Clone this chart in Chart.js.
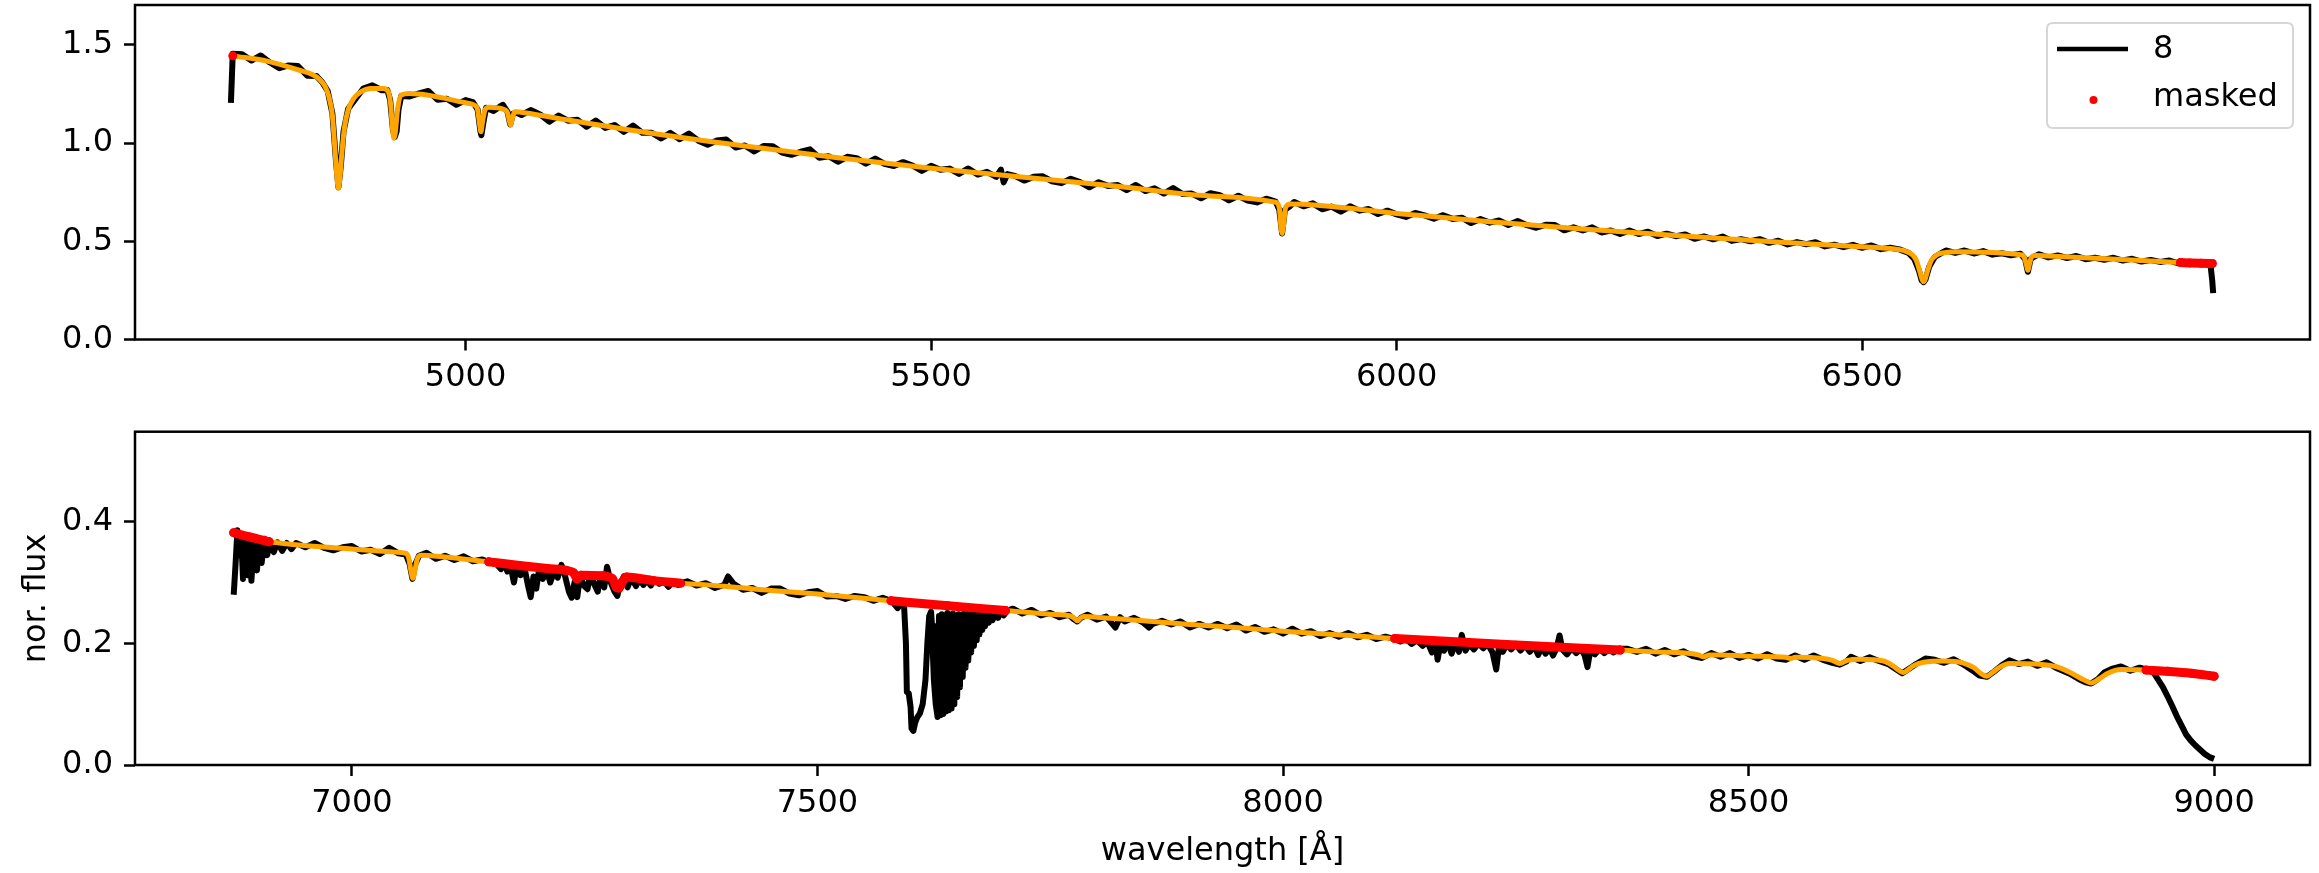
<!DOCTYPE html>
<html><head><meta charset="utf-8">
<script src="https://cdn.jsdelivr.net/npm/chart.js@4.4.0/dist/chart.umd.min.js"></script>
<style>
html,body{margin:0;padding:0;background:#fff;}
#wrap{position:relative;width:2319px;height:873px;background:#fff;}
canvas{position:absolute;left:0;}
#c1{top:0;}
#c2{top:400px;}
</style></head><body>
<div id="wrap"><canvas id="c1" width="2319" height="400"></canvas><canvas id="c2" width="2319" height="473"></canvas></div>
<script>
// ---------------- DATA ----------------
const seriesLabel = '8';
const maskedLabel = 'masked';

// Upper panel: observed spectrum
const topWave = [
4748,4750,4760,4770,4780,4790,4800,4810,4820,4830,
4840,4846,4852,4857,4861,4863.5,4866,4869,4874,4880,
4890,4900,4910,4916,4919,4922,4924,4926,4928,4931,
4940,4950,4960,4970,4980,4990,5000,5008,5013,5016,
5017,5019,5022,5030,5040,5045,5048,5051,5055,5060,
5070,5080,5090,5100,5110,5120,5130,5140,5150,5160,
5170,5180,5190,5200,5210,5220,5230,5240,5250,5260,
5270,5280,5290,5300,5310,5320,5330,5340,5350,5360,
5370,5380,5390,5400,5410,5420,5430,5440,5450,5460,
5470,5480,5490,5500,5510,5520,5530,5540,5550,5560,
5570,5575,5578,5582,5590,5600,5610,5620,5630,5640,
5650,5660,5670,5680,5690,5700,5710,5720,5730,5740,
5750,5760,5770,5780,5790,5800,5810,5820,5830,5840,
5850,5860,5870,5874,5877,5880,5885,5890,5900,5910,
5920,5930,5940,5950,5960,5970,5980,5990,6000,6010,
6020,6030,6040,6050,6060,6070,6080,6090,6100,6110,
6120,6130,6140,6150,6160,6170,6180,6190,6200,6210,
6220,6230,6240,6250,6260,6270,6280,6290,6300,6310,
6320,6330,6340,6350,6360,6370,6380,6390,6400,6410,
6420,6430,6440,6450,6460,6470,6480,6490,6500,6510,
6520,6530,6540,6550,6556,6561,6564,6566,6568,6572,
6578,6586,6590,6600,6610,6620,6630,6640,6650,6660,
6670,6675,6678,6681,6685,6690,6700,6710,6720,6730,
6740,6750,6760,6770,6780,6790,6800,6810,6820,6830,
6840,6850,6860,6870,6874,6876,6877];
const topFlux = [
1.205,1.455,1.452,1.420,1.446,1.410,1.381,1.395,1.392,1.343,
1.341,1.310,1.265,1.150,0.900,0.775,0.880,1.060,1.175,1.213,
1.277,1.294,1.269,1.270,1.220,1.070,1.030,1.060,1.170,1.240,
1.237,1.253,1.265,1.220,1.226,1.195,1.219,1.208,1.170,1.060,
1.040,1.100,1.180,1.164,1.195,1.160,1.095,1.150,1.154,1.143,
1.168,1.146,1.109,1.140,1.114,1.119,1.083,1.115,1.077,1.092,
1.057,1.089,1.052,1.053,1.023,1.052,1.020,1.048,1.012,0.992,
1.013,1.018,0.977,0.988,0.957,0.985,0.984,0.952,0.940,0.956,
0.968,0.925,0.933,0.905,0.930,0.923,0.895,0.921,0.894,0.883,
0.903,0.886,0.858,0.884,0.864,0.870,0.843,0.871,0.840,0.854,
0.828,0.865,0.800,0.842,0.833,0.809,0.828,0.831,0.805,0.796,
0.818,0.801,0.775,0.801,0.782,0.787,0.760,0.787,0.756,0.770,
0.743,0.771,0.741,0.743,0.719,0.745,0.735,0.708,0.732,0.707,
0.698,0.717,0.702,0.660,0.540,0.660,0.677,0.700,0.678,0.693,
0.663,0.677,0.651,0.678,0.656,0.664,0.639,0.656,0.637,0.624,
0.644,0.632,0.615,0.633,0.614,0.620,0.593,0.613,0.595,0.606,
0.583,0.603,0.582,0.569,0.584,0.583,0.556,0.571,0.555,0.571,
0.545,0.555,0.537,0.555,0.537,0.549,0.527,0.539,0.526,0.535,
0.513,0.525,0.510,0.524,0.502,0.511,0.500,0.511,0.492,0.503,
0.484,0.496,0.485,0.495,0.474,0.483,0.470,0.482,0.467,0.479,
0.460,0.467,0.459,0.440,0.410,0.350,0.300,0.292,0.305,0.370,
0.420,0.442,0.453,0.441,0.453,0.438,0.450,0.432,0.439,0.429,
0.437,0.410,0.345,0.410,0.423,0.434,0.418,0.428,0.415,0.425,
0.409,0.416,0.406,0.416,0.402,0.411,0.397,0.405,0.395,0.402,
0.388,0.394,0.386,0.389,0.386,0.300,0.236];

// Upper panel: model (orange)
const topModelWave = [
4750,4789,4821,4835,4843,4849,4853,4857,4860,4862,
4863.5,4865,4867,4870,4874,4880,4888,4898,4912,4917,
4919.5,4921.5,4923,4924.5,4927,4931,4940,5000,5010,5013,
5015,5016.5,5018,5021,5025,5042,5045,5047,5048.5,5050,
5053,5058,5100,5200,5300,5400,5500,5600,5700,5800,
5870,5874,5876,5877,5878,5881,5886,6000,6100,6200,
6300,6400,6500,6530,6545,6553,6558,6562,6564.5,6566,
6567.5,6570,6574,6580,6590,6600,6670,6674,6676.5,6678,
6679.5,6682,6686,6700,6800,6842];
const topModel = [
1.444,1.415,1.372,1.350,1.325,1.290,1.240,1.140,0.950,0.820,
0.770,0.820,0.940,1.080,1.170,1.228,1.262,1.278,1.278,1.262,
1.200,1.080,1.024,1.050,1.170,1.245,1.252,1.205,1.192,1.170,
1.100,1.058,1.100,1.170,1.183,1.170,1.155,1.115,1.092,1.120,
1.160,1.158,1.125,1.050,0.985,0.925,0.872,0.826,0.780,0.731,
0.699,0.670,0.560,0.540,0.560,0.675,0.690,0.642,0.600,0.562,
0.529,0.499,0.472,0.463,0.452,0.435,0.405,0.345,0.305,0.294,
0.305,0.345,0.400,0.430,0.443,0.447,0.432,0.420,0.380,0.352,
0.380,0.420,0.428,0.425,0.402,0.392];

// Upper panel: masked pixels (null = gap between masked runs)
const topMaskWave = [4750, 4751, 6842, 6852, 6864, 6876];
const topMask     = [1.444, null, 0.392, 0.390, 0.388, 0.387];

// Lower panel: observed spectrum
const botWave = [
6873,6875,6877,6879,6881,6883,6885,6888,6890,6892,
6895,6898,6900,6903,6906,6909,6912,6916,6920,6925,
6930,6935,6940,6950,6960,6970,6980,6990,7000,7010,
7020,7030,7040,7050,7058,7062,7065,7068,7072,7080,
7090,7100,7110,7120,7130,7140,7150,7155,7160,7163,
7167,7170,7174,7177,7181,7185,7189,7192,7195,7198,
7201,7205,7209,7213,7217,7221,7225,7229,7233,7236,
7239,7242,7245,7249,7253,7256,7260,7264,7267,7271,
7274,7278,7282,7285,7288,7292,7296,7300,7305,7309,
7313,7317,7321,7325,7330,7335,7340,7345,7350,7355,
7360,7370,7380,7390,7400,7404,7410,7420,7430,7440,
7450,7460,7470,7480,7490,7500,7510,7520,7530,7540,
7550,7560,7570,7580,7586,7590,7593,7595,7596,7598,
7600,7601,7603,7605,7607,7610,7613,7616,7618,7620,
7622,7623,7624,7625,7627,7629,7630.5,7632,7633.5,7635,
7636.5,7638,7639.5,7641,7642.5,7644,7645.5,7647,7648.5,7650,
7651.5,7653,7654.5,7656,7657.5,7659,7660.5,7662,7663.5,7665,
7666.5,7668,7669.5,7671,7672.5,7674,7675.5,7677,7678.5,7680,
7682,7684,7686,7688,7691,7694,7697,7700,7704,7710,
7720,7730,7740,7750,7760,7770,7775,7779,7783,7790,
7800,7810,7820,7825,7830,7840,7850,7856,7860,7870,
7880,7890,7900,7910,7920,7930,7940,7950,7960,7970,
7980,7990,8000,8010,8020,8030,8040,8050,8060,8070,
8080,8090,8100,8110,8120,8126,8132,8138,8144,8150,
8155,8160,8164,8166,8169,8173,8177,8181,8185,8189,
8192,8196,8200,8205,8210,8215,8220,8225,8229,8232,
8236,8240,8245,8250,8255,8260,8265,8270,8274,8278,
8282,8286,8290,8294,8297,8300,8305,8310,8315,8320,
8324,8327,8330,8335,8340,8345,8350,8355,8360,8370,
8380,8390,8400,8410,8420,8430,8440,8450,8460,8470,
8480,8490,8500,8510,8520,8530,8540,8550,8560,8570,
8580,8590,8598,8605,8610,8620,8630,8640,8650,8658,
8665,8672,8680,8690,8700,8710,8720,8730,8740,8748,
8756,8764,8772,8780,8790,8800,8810,8820,8830,8845,
8855,8862,8868,8875,8882,8890,8900,8910,8920,8930,
8935,8940,8945,8950,8955,8960,8965,8970,8975,8980,
8985,8990,8995,9000];
const botFlux = [
0.280,0.330,0.386,0.345,0.378,0.306,0.374,0.312,0.366,0.303,
0.370,0.320,0.366,0.332,0.372,0.345,0.369,0.350,0.366,0.352,
0.365,0.355,0.365,0.358,0.365,0.357,0.353,0.358,0.360,0.351,
0.354,0.347,0.357,0.348,0.346,0.330,0.306,0.330,0.344,0.349,
0.339,0.344,0.337,0.343,0.335,0.338,0.332,0.331,0.322,0.333,
0.318,0.330,0.300,0.327,0.312,0.326,0.296,0.276,0.310,0.290,
0.322,0.306,0.321,0.300,0.318,0.308,0.329,0.310,0.285,0.275,
0.300,0.276,0.312,0.295,0.289,0.314,0.298,0.285,0.312,0.292,
0.326,0.300,0.285,0.278,0.296,0.310,0.292,0.308,0.294,0.306,
0.296,0.304,0.295,0.305,0.298,0.302,0.293,0.302,0.296,0.300,
0.302,0.295,0.299,0.291,0.296,0.310,0.298,0.288,0.291,0.283,
0.290,0.290,0.282,0.279,0.284,0.286,0.277,0.278,0.273,0.278,
0.276,0.270,0.275,0.269,0.258,0.266,0.262,0.200,0.120,0.118,
0.095,0.060,0.056,0.070,0.078,0.085,0.100,0.140,0.200,0.245,
0.252,0.230,0.181,0.140,0.100,0.079,0.245,0.082,0.248,0.084,
0.246,0.088,0.250,0.090,0.247,0.093,0.249,0.100,0.246,0.112,
0.248,0.128,0.247,0.145,0.249,0.160,0.246,0.172,0.250,0.185,
0.247,0.196,0.249,0.205,0.248,0.215,0.250,0.222,0.248,0.228,
0.250,0.234,0.251,0.238,0.252,0.242,0.253,0.246,0.254,0.257,
0.249,0.255,0.246,0.250,0.243,0.247,0.240,0.236,0.242,0.247,
0.239,0.244,0.226,0.243,0.236,0.242,0.234,0.226,0.232,0.237,
0.231,0.236,0.226,0.232,0.226,0.232,0.225,0.231,0.221,0.227,
0.219,0.223,0.216,0.224,0.216,0.220,0.212,0.217,0.211,0.217,
0.210,0.214,0.207,0.211,0.207,0.203,0.208,0.199,0.205,0.196,
0.203,0.185,0.200,0.173,0.198,0.188,0.202,0.183,0.200,0.186,
0.214,0.188,0.199,0.190,0.200,0.192,0.199,0.185,0.157,0.195,
0.186,0.198,0.190,0.199,0.188,0.197,0.186,0.195,0.181,0.194,
0.183,0.193,0.180,0.193,0.213,0.190,0.182,0.192,0.184,0.191,
0.180,0.161,0.188,0.182,0.191,0.184,0.190,0.185,0.191,0.191,
0.186,0.191,0.183,0.189,0.182,0.187,0.179,0.176,0.184,0.178,
0.184,0.176,0.181,0.175,0.182,0.175,0.173,0.180,0.173,0.180,
0.173,0.168,0.165,0.170,0.178,0.171,0.177,0.171,0.166,0.158,
0.151,0.158,0.166,0.175,0.173,0.168,0.174,0.166,0.156,0.147,
0.145,0.154,0.164,0.172,0.166,0.170,0.163,0.169,0.160,0.150,
0.141,0.136,0.134,0.141,0.152,0.158,0.162,0.155,0.160,0.156,
0.152,0.140,0.128,0.113,0.097,0.080,0.065,0.050,0.040,0.032,
0.025,0.018,0.013,0.010];

// Lower panel: model (orange), null = masked run
const botModelWave = [
6911,6940,7000,7047,7058,7061,7063.5,7065.5,7067.5,7070,
7074,7100,7147,7148,
7353,7400,7450,7500,7550,7579,7580,
7702,7750,7772,7776,7779,7782,7786,7800,7850,
7900,7950,8000,8050,8100,8120,8121,
8362,8400,8440,8446,8452,8458,8470,8500,8540,
8545,8550,8580,8590,8598,8606,8620,8645,8655,8662,
8666,8670,8677,8688,8710,8730,8742,8750,8756,8762,
8770,8780,8810,8830,8848,8860,8868,8876,8886,8900,
8927];
const botModel = [
0.367,0.362,0.355,0.350,0.348,0.340,0.318,0.307,0.318,0.338,
0.345,0.342,0.334,null,
0.299,0.294,0.287,0.281,0.274,0.270,null,
0.254,0.248,0.245,0.241,0.237,0.241,0.244,0.243,0.237,
0.231,0.226,0.220,0.215,0.210,0.208,null,
0.189,0.186,0.183,0.181,0.178,0.181,0.181,0.179,0.177,
0.175,0.177,0.175,0.172,0.167,0.172,0.174,0.171,0.163,0.155,
0.152,0.155,0.163,0.169,0.171,0.168,0.160,0.150,0.146,0.152,
0.161,0.167,0.166,0.162,0.150,0.140,0.135,0.141,0.151,0.157,
0.156];

// Lower panel: masked pixels
const botMaskWave = [
6873,6890,6911,6912,
7147,7180,7210,7230,7238,7242,7246,7270,7280,7284,7287,7290,7295,7320,7353,7354,
7579,7640,7702,7703,
8120,8240,8362,8363,
8927,8950,8975,9000];
const botMask = [
0.382,0.375,0.367,null,
0.334,0.328,0.323,0.320,0.316,0.306,0.312,0.311,0.306,0.292,0.291,0.300,0.309,0.304,0.299,null,
0.270,0.262,0.254,null,
0.208,0.198,0.189,null,
0.156,0.154,0.151,0.146];

// Axes
const xTicksTop = [5000, 5500, 6000, 6500];
const xTicksBot = [7000, 7500, 8000, 8500, 9000];
const yTicksTop = [0, 0.5, 1.0, 1.5];
const yTicksBot = [0, 0.2, 0.4];
const xRangeTop = [4645, 6981];
const xRangeBot = [6767, 9103];
const yRangeTop = [0, 1.703];
const yRangeBot = [0, 0.548];
const xTitle = 'wavelength [Å]';
const yTitle = 'nor. flux';

// ---------------- CHARTS ----------------
const FONT = 'DejaVu Sans';
const FS = 32;
const toXY = (w, f) => w.map((x, i) => ({x: x, y: f[i]}));

const framePlugin = {
  id: 'frame',
  afterDatasetsDraw(chart, args, opts) {
    const ctx = chart.ctx, a = chart.chartArea;
    ctx.save();
    ctx.strokeStyle = '#000';
    ctx.lineWidth = 2.5;
    ctx.strokeRect(a.left, a.top, a.right - a.left, a.bottom - a.top);
    if (opts && opts.legend) {
      const ds = chart.data.datasets;
      const bx = a.right - 17 - 246, by = a.top + 18, bw = 246, bh = 105, r = 6;
      ctx.beginPath();
      ctx.moveTo(bx + r, by);
      ctx.lineTo(bx + bw - r, by); ctx.quadraticCurveTo(bx + bw, by, bx + bw, by + r);
      ctx.lineTo(bx + bw, by + bh - r); ctx.quadraticCurveTo(bx + bw, by + bh, bx + bw - r, by + bh);
      ctx.lineTo(bx + r, by + bh); ctx.quadraticCurveTo(bx, by + bh, bx, by + bh - r);
      ctx.lineTo(bx, by + r); ctx.quadraticCurveTo(bx, by, bx + r, by);
      ctx.closePath();
      ctx.fillStyle = 'rgba(255,255,255,0.8)';
      ctx.fill();
      ctx.strokeStyle = '#d6d6d6';
      ctx.lineWidth = 2;
      ctx.stroke();
      ctx.strokeStyle = ds[0].borderColor;
      ctx.lineWidth = 4.6;
      ctx.beginPath();
      ctx.moveTo(bx + 10, by + 26); ctx.lineTo(bx + 81, by + 26);
      ctx.stroke();
      ctx.fillStyle = ds[2].backgroundColor;
      ctx.beginPath();
      ctx.arc(bx + 46.5, by + 77, 4, 0, Math.PI * 2);
      ctx.fill();
      ctx.fillStyle = '#000';
      ctx.font = FS + 'px "' + FONT + '"';
      ctx.textBaseline = 'middle';
      ctx.textAlign = 'left';
      ctx.fillText(ds[0].label, bx + 106, by + 27);
      ctx.fillText(ds[2].label, bx + 106, by + 75);
    }
    ctx.restore();
  }
};

function axisCommon() {
  return {
    grid: {display: true, drawOnChartArea: false, drawTicks: true, tickLength: 11,
           tickWidth: 2.5, tickColor: '#000', color: '#000'},
    border: {display: false}
  };
}

function makeChart(id, c) {
  const xAxis = Object.assign(axisCommon(), {
    type: 'linear', position: 'bottom', min: c.xRange[0], max: c.xRange[1],
    afterFit: s => { s.height = c.xh; s.paddingLeft = 0; s.paddingRight = 0; },
    afterBuildTicks: s => { s.ticks = c.xTicks.map(v => ({value: v})); },
    ticks: {autoSkip: false, maxRotation: 0, minRotation: 0, padding: 8, color: '#000',
            font: {family: FONT, size: FS}, callback: v => String(v)},
    title: c.xTitle ? {display: true, text: c.xTitle, color: '#000',
            font: {family: FONT, size: FS}, padding: {top: 0, bottom: 2}} : {display: false}
  });
  const yAxis = Object.assign(axisCommon(), {
    type: 'linear', position: 'left', min: c.yRange[0], max: c.yRange[1],
    afterFit: s => { s.width = 135; s.paddingTop = 0; s.paddingBottom = 0; },
    afterBuildTicks: s => { s.ticks = c.yTicks.map(v => ({value: v})); },
    ticks: {autoSkip: false, padding: 11, color: '#000',
            font: {family: FONT, size: FS}, callback: v => Number(v).toFixed(1)},
    title: c.yTitle ? {display: true, text: c.yTitle, color: '#000',
            font: {family: FONT, size: FS}, padding: {top: 17, bottom: 0}} : {display: false}
  });
  return new Chart(document.getElementById(id), {
    type: 'scatter',
    data: {datasets: [
      {label: seriesLabel, data: toXY(c.wave, c.flux), showLine: true, borderColor: '#000000',
       borderWidth: 6, pointRadius: 0, borderJoinStyle: 'round', order: 3},
      {label: 'model', data: toXY(c.modelWave, c.model), showLine: true, borderColor: '#FFA500',
       borderWidth: 5, pointRadius: 0, borderJoinStyle: 'round', cubicInterpolationMode: 'monotone', order: 2},
      {label: maskedLabel, data: toXY(c.maskWave, c.mask), showLine: true, borderColor: '#FF0000',
       backgroundColor: '#FF0000', borderWidth: 9, pointRadius: 4.5, pointBorderWidth: 0,
       borderCapStyle: 'round', borderJoinStyle: 'round', cubicInterpolationMode: 'monotone', order: 1}
    ]},
    options: {
      responsive: false, animation: false, devicePixelRatio: 1,
      layout: {padding: c.padding},
      plugins: {legend: {display: false}, tooltip: {enabled: false}, frame: {legend: c.legend}},
      scales: {x: xAxis, y: yAxis}
    },
    plugins: [framePlugin]
  });
}

makeChart('c1', {
  wave: topWave, flux: topFlux, modelWave: topModelWave, model: topModel,
  maskWave: topMaskWave, mask: topMask,
  xRange: xRangeTop, yRange: yRangeTop, xTicks: xTicksTop, yTicks: yTicksTop,
  xh: 60.5, padding: {top: 5, right: 9, left: 0, bottom: 0}, legend: true
});
makeChart('c2', {
  wave: botWave, flux: botFlux, modelWave: botModelWave, model: botModel,
  maskWave: botMaskWave, mask: botMask,
  xRange: xRangeBot, yRange: yRangeBot, xTicks: xTicksBot, yTicks: yTicksBot,
  xTitle: xTitle, yTitle: yTitle,
  xh: 108, padding: {top: 31.7, right: 9, left: 0, bottom: 0}, legend: false
});
</script>
</body></html>
